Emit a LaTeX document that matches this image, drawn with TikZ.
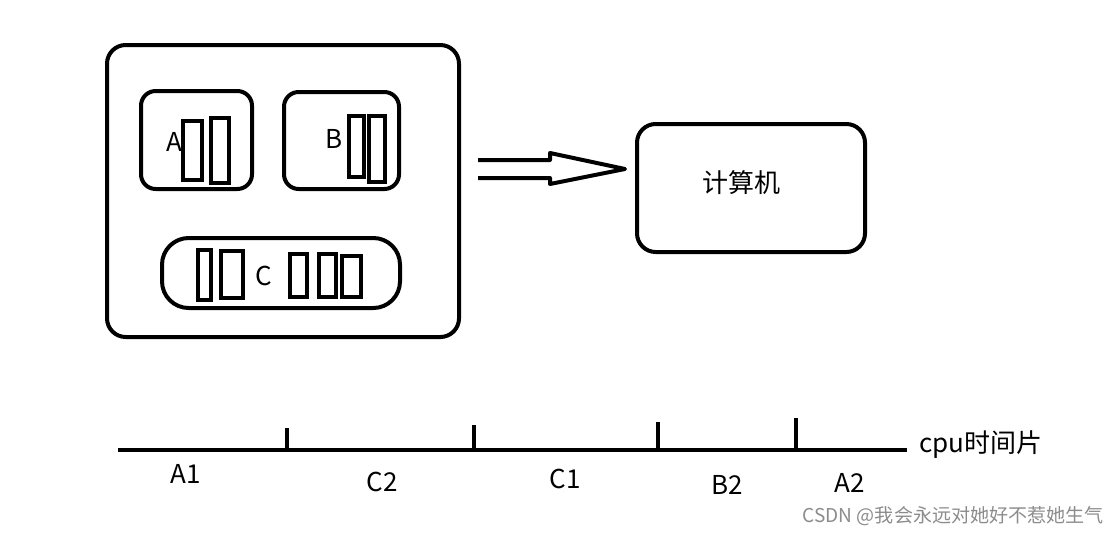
\documentclass[tikz,border=0pt]{standalone}
\usepackage{fontspec}
\setmainfont{Noto Sans CJK SC}
\begin{document}
\begin{tikzpicture}[x=0.75pt,y=-0.75pt,
  box/.style={draw,line width=3pt,rounded corners=14pt,inner sep=0pt},
  bar/.style={draw,line width=3pt,inner sep=0pt,minimum width=#1},
  lab/.style={font=\fontsize{19.5}{22}\selectfont,inner sep=0pt},
  tl/.style={line width=3pt},
  wm/.style={font=\fontsize{14.3}{16}\selectfont,text=black!45,inner sep=0pt}]
\useasboundingbox (0,0) rectangle (1119,536);
% outer box
\node[box,minimum width=352*0.75pt,minimum height=292*0.75pt] (outer) at (283,191) {};
% A
\node[box,rounded corners=11pt,minimum width=111*0.75pt,minimum height=98*0.75pt] (boxA) at (196.5,140) {};
\node[lab] (labA) at (174,142) {A};
\node[bar=19*0.75pt,minimum height=59*0.75pt] (a1) at (192.5,150.5) {};
\node[bar=18*0.75pt,minimum height=65*0.75pt] (a2) at (220,150.5) {};
% B
\node[box,rounded corners=11pt,minimum width=115*0.75pt,minimum height=97*0.75pt] (boxB) at (341.5,140.5) {};
\node[lab] (labB) at (334,139) {B};
\node[bar=15*0.75pt,minimum height=61*0.75pt] (b1) at (356.5,146.5) {};
\node[bar=16*0.75pt,minimum height=66*0.75pt] (b2) at (377,149) {};
% C
\node[box,rounded corners=20pt,minimum width=238*0.75pt,minimum height=70*0.75pt] (boxC) at (281,273) {};
\node[lab] (labC) at (264,276) {C};
\node[bar=13*0.75pt,minimum height=50*0.75pt] (c1) at (204.5,275) {};
\node[bar=22*0.75pt,minimum height=47*0.75pt] (c2) at (232,274.5) {};
\node[bar=17*0.75pt,minimum height=43*0.75pt] (c3) at (298.5,275.5) {};
\node[bar=17*0.75pt,minimum height=43*0.75pt] (c4) at (327.5,275.5) {};
\node[bar=19*0.75pt,minimum height=41*0.75pt] (c5) at (351.5,276.5) {};
% computer
\node[box,minimum width=228*0.75pt,minimum height=128*0.75pt] (pc) at (751,188) {};
\node[lab] (pclab) at (741,183) {计算机};
% hollow arrow
\draw[line width=3pt,line join=round] (478,160) -- (550,160) -- (550,153) -- (625,169) -- (550,184) -- (550,178) -- (478,178);
% timeline
\coordinate (t0) at (118,450);
\coordinate (t5) at (907,450);
\draw[tl] (t0) -- (t5);
\draw[tl] (287,450) -- (287,428);
\draw[tl] (474,450) -- (474,425);
\draw[tl] (658,450) -- (658,422);
\draw[tl] (796,450) -- (796,418);
\node[lab,anchor=west] (cpu) at (919,445) {cpu时间片};
\node[lab] (l1) at (186,474) {A1};
\node[lab] (l2) at (382,482) {C2};
\node[lab] (l3) at (565,479) {C1};
\node[lab] (l4) at (727,485) {B2};
\node[lab] (l5) at (850,483) {A2};
\node[wm,anchor=east] (wm) at (1104,516) {CSDN @我会永远对她好不惹她生气};
\end{tikzpicture}
\end{document}
